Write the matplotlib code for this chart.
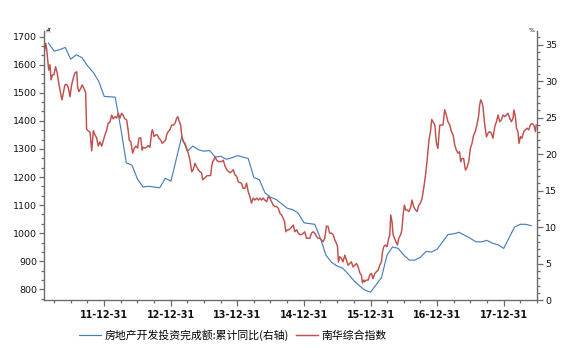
import matplotlib
matplotlib.use("Agg")
import matplotlib.pyplot as plt
from matplotlib.ticker import FixedLocator, AutoMinorLocator, MultipleLocator
from matplotlib.font_manager import FontProperties
import matplotlib.dates as mdates
import pandas as pd

# ---------------- data ----------------
blue_label = "房地产开发投资完成额:累计同比(右轴)"
red_label = "南华综合指数"

blue_dates = [
    "2011-02-28", "2011-03-31", "2011-04-30", "2011-05-31", "2011-06-30", "2011-07-31", "2011-08-31",
    "2011-09-30", "2011-10-31", "2011-11-30", "2011-12-31",
    "2012-02-29", "2012-03-31", "2012-04-30", "2012-05-31", "2012-06-30", "2012-07-31", "2012-08-31",
    "2012-09-30", "2012-10-31", "2012-11-30", "2012-12-31",
    "2013-02-28", "2013-03-31", "2013-04-30", "2013-05-31", "2013-06-30", "2013-07-31", "2013-08-31",
    "2013-09-30", "2013-10-31", "2013-11-30", "2013-12-31",
    "2014-02-28", "2014-03-31", "2014-04-30", "2014-05-31", "2014-06-30", "2014-07-31", "2014-08-31",
    "2014-09-30", "2014-10-31", "2014-11-30", "2014-12-31",
    "2015-02-28", "2015-03-31", "2015-04-30", "2015-05-31", "2015-06-30", "2015-07-31", "2015-08-31",
    "2015-09-30", "2015-10-31", "2015-11-30", "2015-12-31",
    "2016-02-29", "2016-03-31", "2016-04-30", "2016-05-31", "2016-06-30", "2016-07-31", "2016-08-31",
    "2016-09-30", "2016-10-31", "2016-11-30", "2016-12-31",
    "2017-02-28", "2017-03-31", "2017-04-30", "2017-05-31", "2017-06-30", "2017-07-31", "2017-08-31",
    "2017-09-30", "2017-10-31", "2017-11-30", "2017-12-31",
    "2018-02-28", "2018-03-31", "2018-04-30", "2018-05-31",
]
blue_values = [
    35.2, 34.1, 34.3, 34.6, 33.0, 33.6, 33.2, 32.1, 31.2, 30.0, 27.9,
    27.8, 23.5, 18.8, 18.5, 16.6, 15.5, 15.6, 15.5, 15.4, 16.7, 16.3,
    22.4, 20.4, 21.1, 20.6, 20.4, 20.5, 19.6, 19.7, 19.3, 19.5, 19.8,
    19.4, 16.8, 16.5, 14.7, 14.1, 13.8, 13.2, 12.6, 12.4, 11.9, 10.6,
    10.4, 8.5, 6.2, 5.2, 4.7, 4.4, 3.6, 2.7, 2.0, 1.4, 1.1,
    3.1, 6.2, 7.3, 7.1, 6.2, 5.5, 5.5, 5.9, 6.7, 6.6, 7.0,
    9.0, 9.1, 9.3, 8.9, 8.5, 8.0, 8.0, 8.2, 7.8, 7.6, 7.1,
    10.0, 10.4, 10.4, 10.2,
]

red_dates = [
    "2011-02-05", "2011-02-13", "2011-02-18", "2011-02-24", "2011-03-01", "2011-03-08", "2011-03-14",
    "2011-03-21", "2011-03-30", "2011-04-08", "2011-04-17", "2011-04-27", "2011-05-06", "2011-05-13",
    "2011-05-20", "2011-05-29", "2011-06-08", "2011-06-17", "2011-06-26", "2011-07-05", "2011-07-14",
    "2011-07-23", "2011-08-02", "2011-08-07", "2011-08-14", "2011-08-24", "2011-09-01", "2011-09-11",
    "2011-09-20", "2011-09-25", "2011-10-04", "2011-10-14", "2011-10-23", "2011-11-01", "2011-11-10",
    "2011-11-19", "2011-11-28", "2011-12-07", "2011-12-17", "2011-12-26",
    "2012-01-04", "2012-01-13", "2012-01-22", "2012-01-31", "2012-02-10", "2012-02-18", "2012-02-28",
    "2012-03-08", "2012-03-17", "2012-03-26", "2012-04-04", "2012-04-13", "2012-04-20", "2012-05-02",
    "2012-05-11", "2012-05-16", "2012-05-25", "2012-06-04", "2012-06-13", "2012-06-22", "2012-07-01",
    "2012-07-08", "2012-07-18", "2012-07-26", "2012-08-01", "2012-08-10", "2012-08-20", "2012-08-28",
    "2012-09-07", "2012-09-16", "2012-09-21", "2012-09-29", "2012-10-08", "2012-10-17", "2012-10-26",
    "2012-11-04", "2012-11-13", "2012-11-22", "2012-12-02", "2012-12-07", "2012-12-16", "2012-12-25",
    "2013-01-04", "2013-01-13", "2013-01-22", "2013-01-31", "2013-02-07", "2013-02-15", "2013-02-22",
    "2013-02-28", "2013-03-08", "2013-03-18", "2013-03-27", "2013-04-05", "2013-04-14", "2013-04-24",
    "2013-05-02", "2013-05-12", "2013-05-21", "2013-05-30", "2013-06-08", "2013-06-17", "2013-06-23",
    "2013-07-02", "2013-07-11", "2013-07-18", "2013-07-28", "2013-08-06", "2013-08-11", "2013-08-17",
    "2013-08-24", "2013-08-29", "2013-09-08", "2013-09-17", "2013-09-26", "2013-10-05", "2013-10-14",
    "2013-10-23", "2013-11-02", "2013-11-11", "2013-11-20", "2013-11-29", "2013-12-08", "2013-12-17",
    "2013-12-27",
    "2014-01-04", "2014-01-13", "2014-01-22", "2014-01-31", "2014-02-10", "2014-02-19", "2014-02-28",
    "2014-03-09", "2014-03-18", "2014-03-27", "2014-04-05", "2014-04-15", "2014-04-24", "2014-05-03",
    "2014-05-12", "2014-05-21", "2014-05-30", "2014-06-09", "2014-06-18", "2014-06-27", "2014-07-06",
    "2014-07-15", "2014-07-24", "2014-08-02", "2014-08-12", "2014-08-21", "2014-08-30", "2014-09-08",
    "2014-09-16", "2014-09-19", "2014-09-23", "2014-09-30", "2014-10-09", "2014-10-19", "2014-10-27",
    "2014-11-02", "2014-11-11", "2014-11-21", "2014-11-30", "2014-12-09", "2014-12-18", "2014-12-27",
    "2015-01-04", "2015-01-14", "2015-01-22", "2015-02-01", "2015-02-10", "2015-02-19", "2015-02-28",
    "2015-03-10", "2015-03-18", "2015-03-28", "2015-04-06", "2015-04-15", "2015-04-24", "2015-05-03",
    "2015-05-12", "2015-05-21", "2015-05-31", "2015-06-09", "2015-06-18", "2015-06-27", "2015-07-03",
    "2015-07-08", "2015-07-15", "2015-07-25", "2015-08-02", "2015-08-12", "2015-08-21", "2015-08-30",
    "2015-09-08", "2015-09-17", "2015-09-26", "2015-10-06", "2015-10-15", "2015-10-24", "2015-11-02",
    "2015-11-11", "2015-11-17", "2015-11-24", "2015-11-29", "2015-12-09", "2015-12-18", "2015-12-27",
    "2016-01-05", "2016-01-14", "2016-01-24", "2016-02-02", "2016-02-11", "2016-02-20", "2016-02-29",
    "2016-03-06", "2016-03-13", "2016-03-22", "2016-03-31", "2016-04-09", "2016-04-15", "2016-04-20",
    "2016-04-27", "2016-05-03", "2016-05-11", "2016-05-18", "2016-05-27", "2016-06-03", "2016-06-13",
    "2016-06-20", "2016-06-27", "2016-07-04", "2016-07-12", "2016-07-19", "2016-07-28", "2016-08-06",
    "2016-08-15", "2016-08-24", "2016-09-03", "2016-09-12", "2016-09-21", "2016-09-30", "2016-10-09",
    "2016-10-18", "2016-10-28", "2016-11-05", "2016-11-11", "2016-11-16", "2016-11-24", "2016-12-01",
    "2016-12-08", "2016-12-18", "2016-12-27",
    "2017-01-04", "2017-01-14", "2017-01-23", "2017-02-01", "2017-02-10", "2017-02-19", "2017-02-28",
    "2017-03-10", "2017-03-19", "2017-03-28", "2017-04-06", "2017-04-15", "2017-04-24", "2017-05-03",
    "2017-05-09", "2017-05-16", "2017-05-25", "2017-06-04", "2017-06-12", "2017-06-22", "2017-07-01",
    "2017-07-10", "2017-07-19", "2017-07-28", "2017-08-06", "2017-08-16", "2017-08-21", "2017-08-27",
    "2017-09-03", "2017-09-08", "2017-09-17", "2017-09-27", "2017-10-06", "2017-10-15", "2017-10-24",
    "2017-11-02", "2017-11-12", "2017-11-21", "2017-11-30", "2017-12-09", "2017-12-18", "2017-12-27",
    "2018-01-05", "2018-01-15", "2018-01-24", "2018-02-02", "2018-02-11", "2018-02-20", "2018-02-25",
    "2018-03-05", "2018-03-11", "2018-03-19", "2018-03-25", "2018-04-02", "2018-04-10", "2018-04-20",
    "2018-04-29", "2018-05-08", "2018-05-17", "2018-05-26", "2018-06-04", "2018-06-14", "2018-06-23",
    "2018-06-27",
]
red_values = [
    1645, 1676, 1656, 1617, 1581, 1600, 1546,
    1563, 1565, 1593, 1570, 1528, 1496, 1475,
    1499, 1528, 1530, 1517, 1486, 1528, 1552,
    1570, 1575, 1520, 1504, 1516, 1528, 1515,
    1500, 1371, 1364, 1360, 1293, 1365, 1350,
    1340, 1310, 1325, 1310, 1330,
    1350, 1367, 1392, 1395, 1421, 1407, 1415,
    1410, 1427, 1410, 1427, 1420, 1409, 1403,
    1362, 1332, 1325, 1285, 1303, 1310, 1303,
    1338, 1340, 1296, 1306, 1303, 1306, 1312,
    1306, 1362, 1368, 1344, 1350, 1350, 1338,
    1332, 1320, 1325, 1332, 1350, 1362, 1368,
    1385, 1385, 1391, 1409, 1415, 1397, 1385,
    1350, 1326, 1320, 1303, 1285, 1261, 1219,
    1226, 1249, 1236, 1226, 1219, 1215, 1190,
    1195, 1201, 1205, 1205, 1205, 1237, 1255,
    1261, 1272, 1260, 1255, 1255, 1255, 1260,
    1240, 1226, 1220, 1215, 1220, 1226, 1208,
    1202,
    1183, 1180, 1178, 1160, 1160, 1178, 1148,
    1130, 1107, 1125, 1118, 1125, 1118, 1125,
    1118, 1125, 1118, 1112, 1130, 1125, 1112,
    1100, 1095, 1095, 1089, 1071, 1065, 1053,
    1040, 1019, 1005, 1012, 1012, 1018, 1024,
    1029, 1005, 1012, 1000, 995, 995, 1000,
    1005, 982, 982, 982, 1000, 1005, 1000,
    988, 982, 982, 976, 970, 982, 1025,
    1024, 1000, 1000, 995, 976, 964, 952,
    897, 916, 910, 898, 922, 904, 886,
    892, 898, 880, 886, 892, 880, 860,
    850, 823, 833, 827, 833, 833, 851,
    857, 838, 857, 863, 869, 886, 898,
    934, 952, 958, 952, 982, 994, 1065,
    1041, 994, 982, 970, 958, 982, 994,
    1011, 1065, 1100, 1082, 1083, 1077, 1089,
    1118, 1094, 1083, 1077, 1100, 1107, 1124,
    1160, 1207, 1255, 1296, 1332, 1362, 1405,
    1397, 1385, 1320,
    1302, 1385, 1385, 1385, 1440, 1421, 1397,
    1385, 1362, 1350, 1314, 1296, 1285, 1290,
    1254, 1266, 1266, 1225, 1233, 1254, 1302,
    1320, 1350, 1362, 1385, 1421, 1457, 1475,
    1465, 1451, 1391, 1343, 1356, 1362, 1356,
    1338, 1380, 1397, 1421, 1397, 1403, 1421,
    1415, 1421, 1427, 1409, 1397, 1409, 1439,
    1415, 1374, 1362, 1320, 1344, 1338, 1362,
    1368, 1374, 1368, 1385, 1391, 1385, 1362,
    1385,
]

x_start, x_end = "2011-02-05", "2018-06-30"
major_tick_dates = ["2011-12-31", "2012-12-31", "2013-12-31", "2014-12-31",
                    "2015-12-31", "2016-12-31", "2017-12-31"]
left_ticks = [800, 900, 1000, 1100, 1200, 1300, 1400, 1500, 1600, 1700]
right_ticks = [0, 5, 10, 15, 20, 25, 30, 35]

# ---------------- figure ----------------
W, H = 582, 348
fig = plt.figure(figsize=(W / 100, H / 100), dpi=100)
L, R, T, B = 44.3, 536.7, 31.0, 300.3
ax = fig.add_axes([L / W, 1 - B / H, (R - L) / W, (B - T) / H])
ax2 = ax.twinx()

bd = pd.to_datetime(blue_dates)
rd = pd.to_datetime(red_dates)

blue_color = "#4A7EBB"
red_color = "#C0504D"
lb, = ax2.plot(bd, blue_values, color=blue_color, lw=0.85, label=blue_label)
lr, = ax.plot(rd, red_values, color=red_color, lw=1.05, label=red_label)
ax.set_zorder(ax2.get_zorder() + 1)
ax.patch.set_visible(False)

ax.set_xlim(pd.Timestamp(x_start), pd.Timestamp(x_end))
ax.set_ylim(761, 1720)
ax2.set_ylim(0, 36.85)

spine_c = "#6b6b6b"
for a in (ax, ax2):
    a.spines["top"].set_visible(False)
ax.spines["right"].set_visible(False)
ax2.spines["left"].set_visible(False)
ax2.spines["bottom"].set_visible(False)
for s in (ax.spines["left"], ax.spines["bottom"], ax2.spines["right"]):
    s.set_color(spine_c)
    s.set_linewidth(1.0)

# x ticks
maj = mdates.date2num(pd.to_datetime(major_tick_dates))
ax.xaxis.set_major_locator(FixedLocator(maj))
ax.xaxis.set_major_formatter(mdates.DateFormatter("%y-%m-%d"))
q = pd.date_range("2011-03-31", x_end, freq="QE")
q = [d for d in q if not (d.month == 12 and d.day == 31)]
ax.xaxis.set_minor_locator(FixedLocator(mdates.date2num(pd.DatetimeIndex(q))))
ax.tick_params(axis="x", which="major", direction="out", length=4.1, width=0.9,
               color=spine_c, labelsize=6.9, pad=3.2, labelcolor="#111111")
ax.tick_params(axis="x", which="minor", direction="out", length=1.8, width=0.9, color=spine_c)
for lbl in ax.get_xticklabels():
    lbl.set_fontweight("bold")

# left y
ax.yaxis.set_major_locator(FixedLocator(left_ticks))
ax.yaxis.set_minor_locator(AutoMinorLocator(3))
ax.tick_params(axis="y", which="major", direction="out", length=3.6, width=0.9,
               color=spine_c, labelsize=6.8, pad=1.4, labelcolor="#111111")
ax.tick_params(axis="y", which="minor", direction="out", length=2.0, width=0.9, color=spine_c)

# right y
ax2.yaxis.set_major_locator(FixedLocator(right_ticks))
ax2.yaxis.set_minor_locator(MultipleLocator(1))
ax2.tick_params(axis="y", which="major", direction="out", length=4.1, width=0.9,
                color=spine_c, labelsize=6.8, pad=2.0, labelcolor="#111111")
ax2.tick_params(axis="y", which="minor", direction="out", length=2.4, width=0.9, color=spine_c)

# small unit marks at axis tops
fig.text(48.5 / W, 1 - 30 / H, "点", fontsize=3.5, ha="center", va="center",
         family=["Noto Sans CJK SC", "DejaVu Sans"])
fig.text(531.5 / W, 1 - 31 / H, "%", fontsize=4.5, ha="center", va="center")

# legend
fp = FontProperties(family=["Noto Sans CJK SC", "DejaVu Sans"], size=7.8)
fig.legend([lb, lr], [blue_label, red_label], loc="center",
           bbox_to_anchor=(233 / W, 1 - 335.5 / H), ncol=2, frameon=False, prop=fp,
           handlelength=2.05, handletextpad=0.3, columnspacing=0.65, borderpad=0,
           borderaxespad=0)

fig.savefig("out.png", dpi=100)
